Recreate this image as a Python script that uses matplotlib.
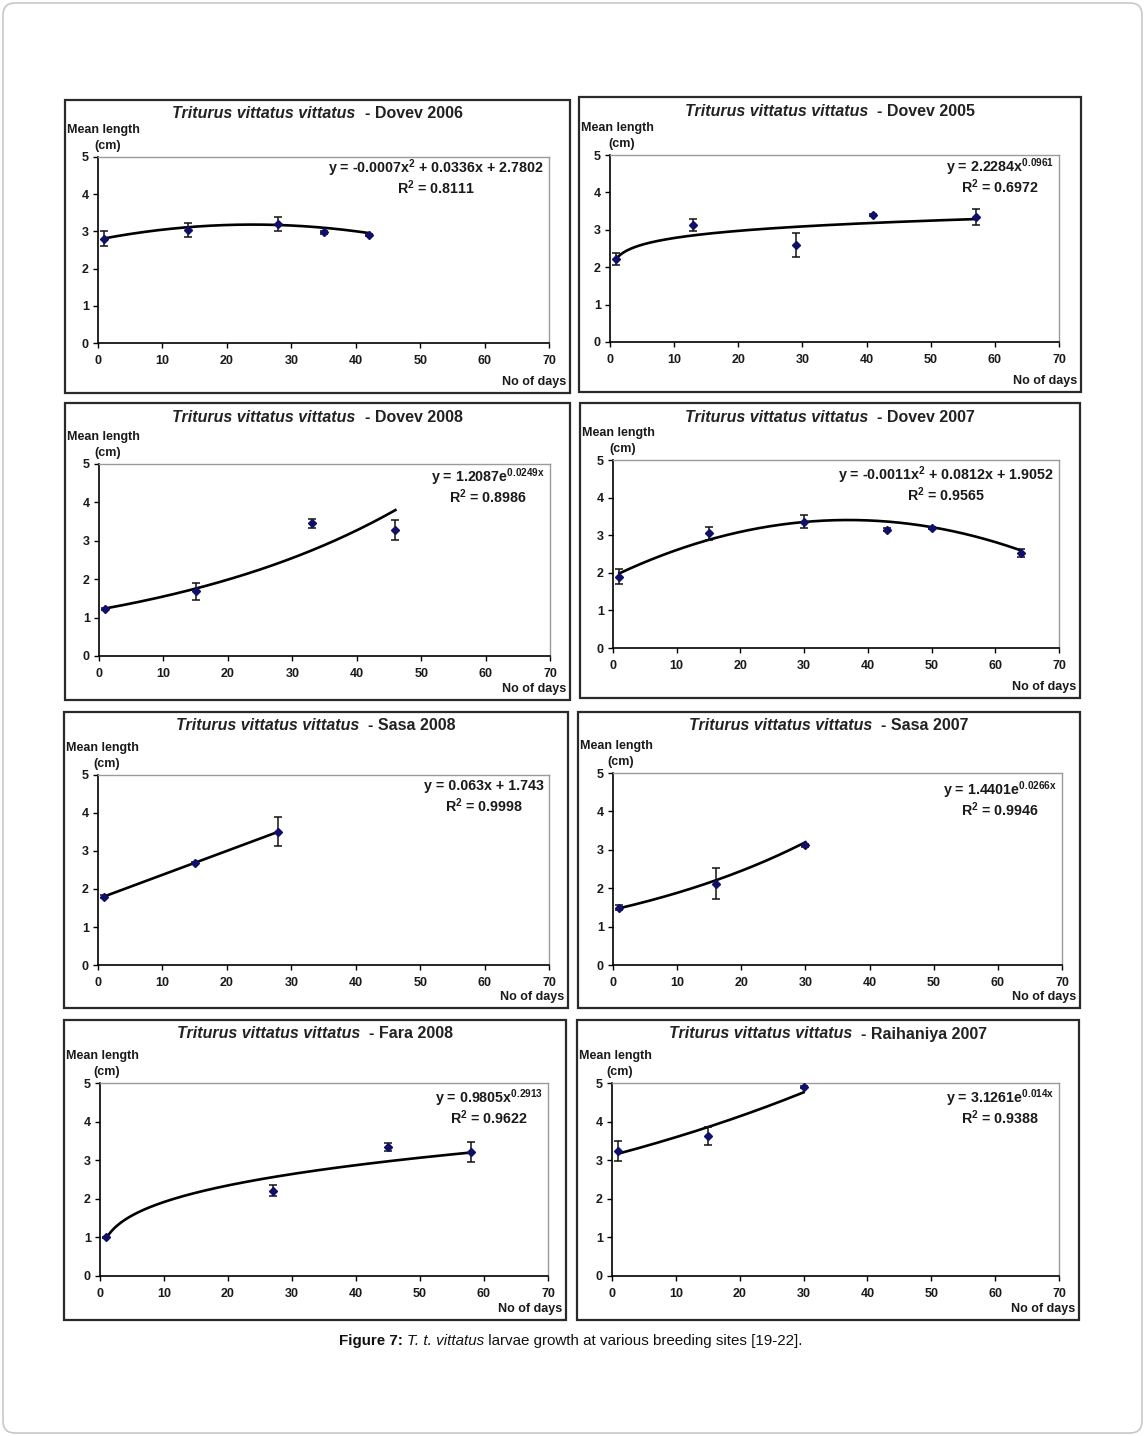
import numpy as np
import matplotlib
matplotlib.use('Agg')
import matplotlib.pyplot as plt
from matplotlib.patches import Rectangle, FancyBboxPatch
from matplotlib.transforms import IdentityTransform

plt.rcParams['font.family'] = ['Liberation Sans', 'DejaVu Sans']
plt.rcParams['font.weight'] = 'bold'
plt.rcParams['mathtext.default'] = 'regular'

W, H = 1145, 1436

# ---------------- data ----------------
species = "Triturus vittatus vittatus"
sites = ["Dovev 2006", "Dovev 2005", "Dovev 2008", "Dovev 2007",
         "Sasa 2008", "Sasa 2007", "Fara 2008", "Raihaniya 2007"]

dovev2006_days = [1, 14, 28, 35, 42]
dovev2006_len = [2.80, 3.04, 3.20, 2.98, 2.90]
dovev2006_err = [0.20, 0.19, 0.18, 0.04, 0.03]

dovev2005_days = [1, 13, 29, 41, 57]
dovev2005_len = [2.22, 3.13, 2.60, 3.40, 3.34]
dovev2005_err = [0.15, 0.16, 0.32, 0.03, 0.22]

dovev2008_days = [1, 15, 33, 46]
dovev2008_len = [1.22, 1.68, 3.46, 3.27]
dovev2008_err = [0.03, 0.21, 0.12, 0.26]

dovev2007_days = [1, 15, 30, 43, 50, 64]
dovev2007_len = [1.90, 3.05, 3.36, 3.14, 3.19, 2.52]
dovev2007_err = [0.19, 0.18, 0.18, 0.04, 0.03, 0.11]

sasa2008_days = [1, 15, 28]
sasa2008_len = [1.80, 2.69, 3.51]
sasa2008_err = [0.03, 0.03, 0.39]

sasa2007_days = [1, 16, 30]
sasa2007_len = [1.49, 2.12, 3.12]
sasa2007_err = [0.06, 0.40, 0.04]

fara2008_days = [1, 27, 45, 58]
fara2008_len = [1.00, 2.21, 3.34, 3.21]
fara2008_err = [0.02, 0.15, 0.10, 0.25]

raihaniya2007_days = [1, 15, 30]
raihaniya2007_len = [3.25, 3.63, 4.89]
raihaniya2007_err = [0.26, 0.23, 0.02]

# trendlines as printed on the chart
fit_kind = ["poly2", "power", "exp", "poly2", "linear", "exp", "power", "exp"]
fit_coef = [(-0.0007, 0.0336, 2.7802), (2.2284, 0.0961), (1.2087, 0.0249),
            (-0.0011, 0.0812, 1.9052), (0.063, 1.743), (1.4401, 0.0266),
            (0.9805, 0.2913), (3.1261, 0.014)]
eq_text = [r"y = -0.0007x$^{2}$ + 0.0336x + 2.7802",
           r"y = 2.2284x$^{0.0961}$",
           r"y = 1.2087e$^{0.0249x}$",
           r"y = -0.0011x$^{2}$ + 0.0812x + 1.9052",
           r"y = 0.063x + 1.743",
           r"y = 1.4401e$^{0.0266x}$",
           r"y = 0.9805x$^{0.2913}$",
           r"y = 3.1261e$^{0.014x}$"]
r2_text = [r"R$^{2}$ = 0.8111", r"R$^{2}$ = 0.6972", r"R$^{2}$ = 0.8986",
           r"R$^{2}$ = 0.9565", r"R$^{2}$ = 0.9998", r"R$^{2}$ = 0.9946",
           r"R$^{2}$ = 0.9622", r"R$^{2}$ = 0.9388"]

x_ticks = [0, 10, 20, 30, 40, 50, 60, 70]
y_ticks = [0, 1, 2, 3, 4, 5]

series = [
    (dovev2006_days, dovev2006_len, dovev2006_err),
    (dovev2005_days, dovev2005_len, dovev2005_err),
    (dovev2008_days, dovev2008_len, dovev2008_err),
    (dovev2007_days, dovev2007_len, dovev2007_err),
    (sasa2008_days, sasa2008_len, sasa2008_err),
    (sasa2007_days, sasa2007_len, sasa2007_err),
    (fara2008_days, fara2008_len, fara2008_err),
    (raihaniya2007_days, raihaniya2007_len, raihaniya2007_err),
]

# ---------------- layout (pixels) ----------------
boxes = [(65, 100, 570, 393), (579, 97, 1081, 392),
         (65, 403, 570, 700), (580, 403, 1080, 698),
         (64, 712, 568, 1008), (578, 712, 1080, 1008),
         (64, 1020, 566, 1320), (577, 1020, 1079, 1320)]
axrects = [(98, 157, 549, 343), (610, 155, 1059, 342),
           (99, 464, 550, 656), (613, 460, 1059, 648),
           (98, 775, 549, 965), (613, 773, 1062, 965),
           (100, 1083, 548, 1276), (612, 1083, 1059, 1276)]
eq_dy = [11, 12, 13, 15, 11, 17, 15, 15]

fig = plt.figure(figsize=(W / 100, H / 100), dpi=100)
fig.patch.set_facecolor('white')
renderer = fig.canvas.get_renderer()


def fx(x):
    return x / W


def fy(y):
    return 1 - y / H


def trend(kind, coef, x):
    if kind == "poly2":
        a, b, c = coef
        return a * x ** 2 + b * x + c
    if kind == "power":
        a, b = coef
        return a * x ** b
    if kind == "exp":
        a, b = coef
        return a * np.exp(b * x)
    a, b = coef
    return a * x + b


# outer rounded frame
fig.patches.append(FancyBboxPatch((3, 3), W - 6, H - 6,
                                  boxstyle="round,pad=0,rounding_size=12",
                                  transform=IdentityTransform(),
                                  facecolor='none', edgecolor='#c8c8c8', lw=1.2))

txtc = '#1a1a1a'
for i in range(8):
    bx0, by0, bx1, by1 = boxes[i]
    fig.patches.append(Rectangle((fx(bx0), fy(by1)), (bx1 - bx0) / W, (by1 - by0) / H,
                                 transform=fig.transFigure, facecolor='none',
                                 edgecolor='#2a2a2a', lw=1.6))
    l, t, r, b = axrects[i]
    ax = fig.add_axes([fx(l), fy(b), (r - l) / W, (b - t) / H])
    ax.set_xlim(0, 70)
    ax.set_ylim(0, 5)
    ax.set_xticks(x_ticks)
    ax.set_yticks(y_ticks)
    ax.tick_params(axis='both', direction='out', length=3.5, width=1,
                   labelsize=9, colors='black', labelcolor=txtc)
    ax.tick_params(axis='y', pad=3)
    ax.tick_params(axis='x', pad=5)
    for s in ['left', 'bottom']:
        ax.spines[s].set_color('black')
        ax.spines[s].set_linewidth(1.2)
    for s in ['top', 'right']:
        ax.spines[s].set_color('#9a9a9a')
        ax.spines[s].set_linewidth(1.0)

    days, mean, err = series[i]
    xs = np.linspace(min(days), max(days), 300)
    ax.plot(xs, trend(fit_kind[i], fit_coef[i], xs), color='black', lw=1.9, zorder=2)
    ax.errorbar(days, mean, yerr=err, fmt='D', color='#10106a', ms=3.8,
                ecolor='#111111', elinewidth=1.1, capsize=3, capthick=1.1, zorder=3)

    # title: italic species + site
    cx = (bx0 + bx1) / 2
    cy = by0 + 14
    t1 = fig.text(0, fy(cy), species, fontsize=11.5, fontstyle='italic',
                  va='center', ha='left', color='#222222')
    t2 = fig.text(0, fy(cy), "  - " + sites[i], fontsize=11.5,
                  va='center', ha='left', color='#222222')
    w1 = t1.get_window_extent(renderer).width
    w2 = t2.get_window_extent(renderer).width
    x0 = cx - (w1 + w2) / 2
    t1.set_x(fx(x0))
    t2.set_x(fx(x0 + w1))

    fig.text(fx(bx0 + 2), fy(t - 27), "Mean length", fontsize=9, va='center',
             ha='left', color=txtc)
    fig.text(fx(bx0 + 43), fy(t - 11), "(cm)", fontsize=9, va='center',
             ha='center', color=txtc)
    fig.text(fx(bx1 - 4), fy(by1 - 11), "No of days", fontsize=9, va='center',
             ha='right', color=txtc)

    e1 = fig.text(fx(r - 5), fy(t + eq_dy[i]), eq_text[i], fontsize=10.3,
                  va='center', ha='right', color=txtc)
    bb = e1.get_window_extent(renderer)
    fig.text(fx((bb.x0 + bb.x1) / 2), fy(t + eq_dy[i] + 20), r2_text[i],
             fontsize=10.3, va='center', ha='center', color=txtc)

# caption
cap_parts = [("Figure 7: ", 'bold', 'normal'), ("T. t. vittatus", 'normal', 'italic'),
             (" larvae growth at various breeding sites [19-22].", 'normal', 'normal')]
cap_objs = []
for s, wgt, sty in cap_parts:
    cap_objs.append(fig.text(0, fy(1341), s, fontsize=10.9, fontweight=wgt,
                             fontstyle=sty, va='center', ha='left', color='#111111'))
widths = [o.get_window_extent(renderer).width for o in cap_objs]
xpos = 571 - sum(widths) / 2
for o, w in zip(cap_objs, widths):
    o.set_x(fx(xpos))
    xpos += w

fig.savefig('out.png', dpi=100, facecolor='white')
